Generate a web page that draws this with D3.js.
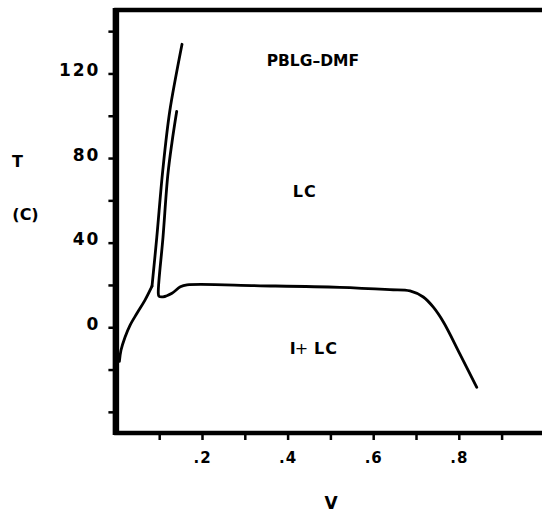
<!DOCTYPE html>
<html>
<head>
<meta charset="utf-8">
<script src="https://cdn.jsdelivr.net/npm/d3@7"></script>
<style>
	body { margin: 0; background: #fff; }
	text { font-family: "DejaVu Sans", "Liberation Sans", Arial, sans-serif; font-weight: bold; fill: #000; }
</style>
</head>
<body>
<div id="chart"></div>
<script>
// phase boundary traces (V = volume fraction, T in C)
const leftBoundary = [
	[0.007, -16.1], [0.0107, -10.9], [0.0201, -4.7], [0.0318, 0.9], [0.0481, 6.6],
	[0.0668, 12.8], [0.0832, 19.4]
];
const outerLine = [
	[0.0832, 19.4], [0.0944, 42.6], [0.1084, 74.3], [0.125, 102.6], [0.1533, 133.8]
];
const innerLine = [
	[0.1409, 102.1], [0.1299, 87.5], [0.1201, 71.9], [0.1089, 42.6], [0.0979, 16.1],
	[0.0995, 14.7], [0.1089, 14.4], [0.1299, 16.1], [0.1495, 19.1], [0.165, 20.0],
	[0.336, 19.6], [0.522, 18.9], [0.639, 17.8], [0.686, 17.2], [0.717, 14.3],
	[0.740, 9.6], [0.764, 2.5], [0.803, -12.8], [0.842, -28.4]
];
const xTicks = [0.1, 0.2, 0.3, 0.4, 0.5, 0.6, 0.7, 0.8, 0.9];
const xTickLabels = {0.2: '.2', 0.4: '.4', 0.6: '.6', 0.8: '.8'};
const yTicks = [-40, -20, 0, 20, 40, 60, 80, 100, 120, 140];
const yTickLabels = {0: '0', 40: '40', 80: '80', 120: '120'};

const W = 542, H = 512,
	margin = {top: 10, left: 116.4},
	plotW = 428, plotH = 423;

const svg = d3.select('#chart').append('svg').attr('width', W).attr('height', H);

const scaleX = d3.scaleLinear().domain([0, 1]).range([margin.left, margin.left + plotW]);
const scaleY = d3.scaleLinear().domain([-50, 150]).range([margin.top + plotH, margin.top]);

// y axis ticks + labels
const yAxis = d3.axisLeft(scaleY)
	.tickValues(yTicks)
	.tickSize(8)
	.tickPadding(8)
	.tickFormat(d => yTickLabels[d] || '');
const gy = svg.append('g').attr('transform', `translate(${margin.left},0)`).call(yAxis);
gy.select('.domain').remove();
gy.selectAll('line').attr('stroke-width', 2.5);
gy.selectAll('text').style('font-size', '17px').style('letter-spacing', '2px').attr('dy', '0.12em');

// x axis ticks + labels
const xAxis = d3.axisBottom(scaleX)
	.tickValues(xTicks)
	.tickSize(7)
	.tickPadding(12)
	.tickFormat(d => xTickLabels[d] || '');
const gx = svg.append('g').attr('transform', `translate(0,${margin.top + plotH})`).call(xAxis);
gx.select('.domain').remove();
gx.selectAll('line').attr('stroke-width', 2.5);
gx.selectAll('text').style('font-size', '15px').style('letter-spacing', '1px');

// frame
svg.append('rect')
	.attr('x', scaleX(0)).attr('y', scaleY(150))
	.attr('width', scaleX(1) - scaleX(0)).attr('height', scaleY(-50) - scaleY(150))
	.attr('fill', 'none').attr('stroke', '#000').attr('stroke-width', 4.5);
svg.append('line')
	.attr('x1', scaleX(0) - 0.5).attr('x2', scaleX(0) - 0.5)
	.attr('y1', scaleY(150) - 2).attr('y2', scaleY(-50) + 2)
	.attr('stroke', '#000').attr('stroke-width', 6.5);

const line = d3.line()
	.x(d => scaleX(d[0]))
	.y(d => scaleY(d[1]))
	.curve(d3.curveCatmullRom.alpha(0.5));

[leftBoundary, outerLine, innerLine].forEach(arr => {
	svg.append('path')
		.attr('d', line(arr))
		.attr('fill', 'none')
		.attr('stroke', '#000')
		.attr('stroke-width', 2.8)
		.attr('stroke-linejoin', 'round')
		.attr('stroke-linecap', 'round');
});

// region labels
svg.append('text')
	.attr('x', scaleX(0.459)).attr('y', scaleY(123.5))
	.attr('text-anchor', 'middle')
	.style('font-size', '15.5px')
	.text('PBLG\u2013DMF');
svg.append('text')
	.attr('x', scaleX(0.440)).attr('y', scaleY(61.5))
	.attr('text-anchor', 'middle')
	.style('font-size', '16px')
	.style('letter-spacing', '1px')
	.text('LC');
const ilc = svg.append('text')
	.attr('x', scaleX(0.405)).attr('y', scaleY(-12.8))
	.style('font-size', '16px');
ilc.append('tspan').text('I');
ilc.append('tspan').style('font-weight', 'normal').attr('dx', -1).text('+');
ilc.append('tspan').attr('dx', 6).style('letter-spacing', '1px').text('LC');

// axis titles
svg.append('text').attr('x', 331).attr('y', 509).attr('text-anchor', 'middle')
	.style('font-size', '17px').text('V');
svg.append('text').attr('x', 17.5).attr('y', 167).attr('text-anchor', 'middle')
	.style('font-size', '16px').text('T');
svg.append('text').attr('x', 25.5).attr('y', 220).attr('text-anchor', 'middle')
	.style('font-size', '16px').text('(C)');
</script>
</body>
</html>
